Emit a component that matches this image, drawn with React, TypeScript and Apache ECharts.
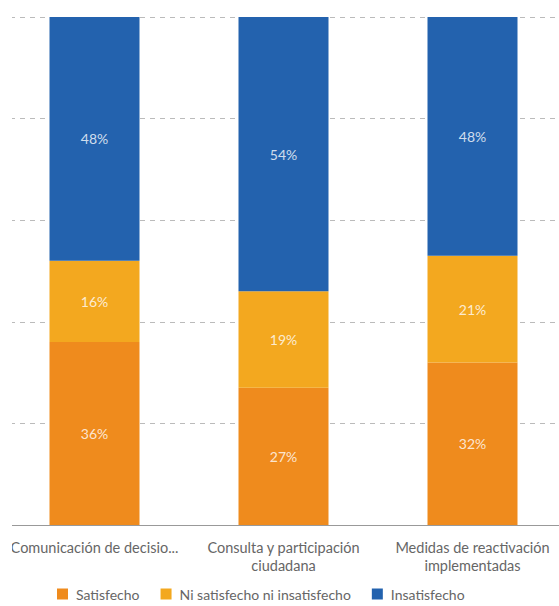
import React, { useEffect, useRef } from "react";
import * as echarts from "echarts";

const categories = [
  "Comunicación de decisiones tomadas",
  "Consulta y participación\nciudadana",
  "Medidas de reactivación\nimplementadas",
];
const satisfecho = [36, 27, 32];
const niNi = [16, 19, 21];
const insatisfecho = [48, 54, 48];
const seriesNames = ["Satisfecho", "Ni satisfecho ni insatisfecho", "Insatisfecho"];
const colors = ["#EF8B1D", "#F3A81F", "#2362AE"];

export default function App() {
  const ref = useRef<HTMLDivElement>(null);
  useEffect(() => {
    const chart = echarts.init(ref.current!, null, { renderer: "svg" });
    const font = "Lato, 'Noto Sans', sans-serif";
    const data = [satisfecho, niNi, insatisfecho];
    chart.setOption({
      animation: false,
      textStyle: { fontFamily: font },
      grid: {
        left: 0,
        right: 0,
        top: 17,
        bottom: 81,
        containLabel: false,
        outerBoundsMode: "none",
      },
      legend: {
        bottom: 0,
        left: 52,
        itemWidth: 11,
        itemHeight: 11,
        itemGap: 21,
        icon: "rect",
        textStyle: {
          color: "#666",
          fontSize: 14,
          fontFamily: font,
          padding: [0, 0, 0, 3],
        },
        data: seriesNames,
      },
      xAxis: {
        type: "category",
        data: categories,
        axisTick: { show: false },
        axisLine: { lineStyle: { color: "#999", width: 1 } },
        axisLabel: {
          color: "#666",
          fontSize: 14.5,
          fontFamily: font,
          margin: 13,
          lineHeight: 18,
          width: 176,
          overflow: "truncate",
          interval: 0,
        },
      },
      yAxis: {
        type: "value",
        min: 0,
        max: 100,
        interval: 20,
        axisLabel: { show: false },
        axisLine: { show: false },
        axisTick: { show: false },
        splitLine: { lineStyle: { color: "#bbb", type: [5, 5], width: 1 } },
      },
      series: seriesNames.map((name, i) => ({
        name,
        type: "bar",
        stack: "total",
        barWidth: 90,
        data: data[i],
        itemStyle: { color: colors[i] },
        label: {
          show: true,
          position: "inside",
          formatter: "{c}%",
          color: "rgba(255,255,255,0.8)",
          fontSize: 14,
          fontFamily: font,
        },
      })),
    });
    return () => chart.dispose();
  }, []);
  return (
    <div
      style={{
        position: "absolute",
        left: 12,
        top: 0,
        width: 547,
        height: 606,
        overflow: "hidden",
      }}
    >
      <div ref={ref} style={{ position: "absolute", left: -12, top: 0, width: 567, height: 606 }} />
    </div>
  );
}
